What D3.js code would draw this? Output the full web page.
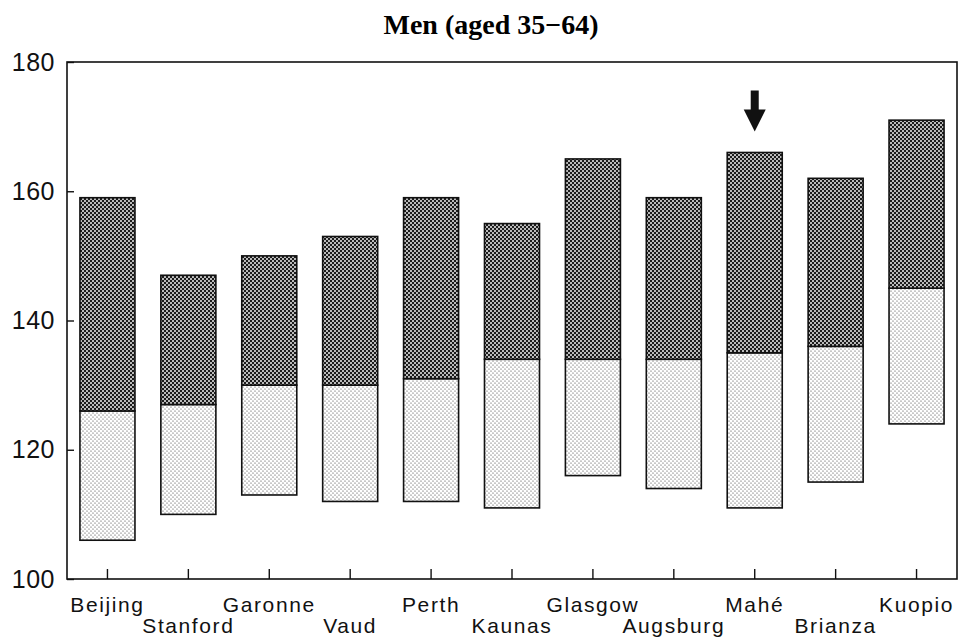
<!DOCTYPE html>
<html>
<head>
<meta charset="utf-8">
<script src="https://cdn.jsdelivr.net/npm/d3@7"></script>
<style>
  body { margin: 0; background: #fff; }
  .axis text { font-family: "Liberation Sans", Arial, sans-serif; fill: #111; }
  .axis line { stroke: #111; stroke-width: 1.4px; }
</style>
</head>
<body>
<div class="chart"></div>
<script>
// centres, ordered as in the figure
var cities = ["Beijing", "Stanford", "Garonne", "Vaud", "Perth", "Kaunas",
    "Glasgow", "Augsburg", "Mahé", "Brianza", "Kuopio"];
var lower  = [106, 110, 113, 112, 112, 111, 116, 114, 111, 115, 124];
var middle = [126, 127, 130, 130, 131, 134, 134, 134, 135, 136, 145];
var upper  = [159, 147, 150, 153, 159, 155, 165, 159, 166, 162, 171];
var yTicks = [100, 120, 140, 160, 180];
var highlight = "Mahé";
var title = "Men (aged 35\u221264)";

var width = 960, height = 642;
var margin = { top: 62, right: 3, bottom: 63, left: 67 };

var svg = d3
    .select(".chart")
    .append("svg")
    .attr("width", width)
    .attr("height", height);

var defs = svg.append("defs");

// dark crosshatch for the upper part
var dark = defs.append("pattern")
    .attr("id", "dark")
    .attr("width", 4)
    .attr("height", 4)
    .attr("patternUnits", "userSpaceOnUse");
dark.append("rect").attr("width", 4).attr("height", 4).attr("fill", "#1c1c1c");
dark.append("circle").attr("cx", 1).attr("cy", 1).attr("r", 0.95).attr("fill", "#fff");
dark.append("circle").attr("cx", 3).attr("cy", 3).attr("r", 0.95).attr("fill", "#fff");

// light stipple for the lower part
var light = defs.append("pattern")
    .attr("id", "light")
    .attr("width", 4)
    .attr("height", 4)
    .attr("patternUnits", "userSpaceOnUse");
light.append("rect").attr("width", 4).attr("height", 4).attr("fill", "#fff");
light.append("circle").attr("cx", 1).attr("cy", 1).attr("r", 0.6).attr("fill", "#333");
light.append("circle").attr("cx", 3).attr("cy", 3).attr("r", 0.6).attr("fill", "#333");

var x = d3.scaleBand()
    .domain(cities)
    .range([margin.left, width - margin.right])
    .paddingInner(0.32)
    .paddingOuter(0.16);

var y = d3.scaleLinear()
    .domain([100, 180])
    .range([height - margin.bottom, margin.top]);

var data = cities.map((c, i) => ({
    city: c, lower: lower[i], middle: middle[i], upper: upper[i]
}));

svg.append("text")
    .attr("x", 491)
    .attr("y", 34)
    .attr("text-anchor", "middle")
    .style("font-family", "'Liberation Serif', 'Times New Roman', serif")
    .style("font-weight", "bold")
    .style("font-size", "28px")
    .text(title);

// bars
var bars = svg.append("g").selectAll("g").data(data).enter().append("g");

bars.append("rect")
    .attr("x", (d) => x(d.city))
    .attr("width", x.bandwidth())
    .attr("y", (d) => y(d.middle))
    .attr("height", (d) => y(d.lower) - y(d.middle))
    .style("fill", "url(#light)")
    .style("stroke", "#111")
    .style("stroke-width", "1.6px");

bars.append("rect")
    .attr("x", (d) => x(d.city))
    .attr("width", x.bandwidth())
    .attr("y", (d) => y(d.upper))
    .attr("height", (d) => y(d.middle) - y(d.upper))
    .style("fill", "url(#dark)")
    .style("stroke", "#111")
    .style("stroke-width", "1.6px");

// axes
var yAxis = svg.append("g")
    .attr("class", "axis")
    .attr("transform", `translate(${margin.left},0)`)
    .call(d3.axisLeft(y).tickValues(yTicks).tickSize(-7).tickSizeOuter(0).tickPadding(12));
yAxis.selectAll("text").style("font-size", "25px").style("letter-spacing", "0.5px");
yAxis.select(".domain").remove();

var xAxis = svg.append("g")
    .attr("class", "axis")
    .attr("transform", `translate(0,${height - margin.bottom})`)
    .call(d3.axisBottom(x).tickSize(-10).tickSizeOuter(0));
xAxis.select(".domain").remove();
xAxis.selectAll("text")
    .attr("dy", 0)
    .attr("y", (d, i) => (i % 2 === 0 ? 33 : 54))
    .style("font-size", "21px")
    .style("letter-spacing", "1.6px");

// frame
svg.append("rect")
    .attr("x", margin.left)
    .attr("y", margin.top)
    .attr("width", width - margin.right - margin.left)
    .attr("height", height - margin.bottom - margin.top)
    .attr("fill", "none")
    .attr("stroke", "#111")
    .attr("stroke-width", 1.6);

// arrow above the highlighted centre
var hl = data.find((d) => d.city === highlight);
var ax = x(hl.city) + x.bandwidth() / 2;
var tip = y(hl.upper) - 21;
svg.append("path")
    .attr("d", `M${ax - 4},${tip - 41} L${ax + 4},${tip - 41} L${ax + 4},${tip - 22}
        L${ax + 11},${tip - 22} L${ax},${tip} L${ax - 11},${tip - 22} L${ax - 4},${tip - 22} Z`)
    .attr("fill", "#111");
</script>
</body>
</html>
